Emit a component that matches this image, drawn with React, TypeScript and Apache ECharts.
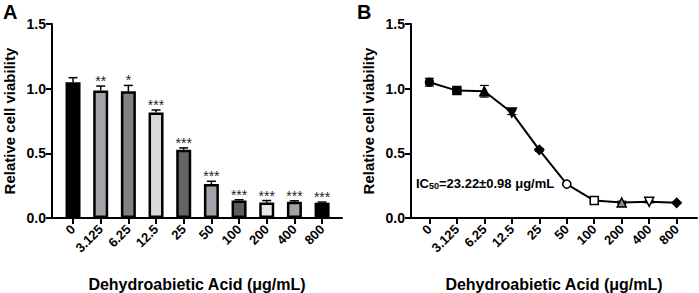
import React, { useEffect, useRef } from 'react';
import * as echarts from 'echarts';

const categories = ['0', '3.125', '6.25', '12.5', '25', '50', '100', '200', '400', '800'];
const viability = [1.05, 0.985, 0.98, 0.815, 0.527, 0.262, 0.135, 0.12, 0.125, 0.117];
const errorsA = [0.035, 0.035, 0.045, 0.02, 0.015, 0.022, 0.006, 0.015, 0.008, 0.006];
const errorsB = [0.03, 0.012, 0.045, 0.015, 0.01, 0.01, 0.006, 0.01, 0.008, 0.006];
const significance = ['', '**', '*', '***', '***', '***', '***', '***', '***', '***'];
const yTicks = [0, 0.5, 1.0, 1.5];
const xTitle = 'Dehydroabietic Acid (μg/mL)';
const yTitle = 'Relative cell viability';
const ic50Value = '23.22±0.98 μg/mL';

const barColors = ['#000000', '#a2a2a8', '#818181', '#d9d9d9', '#646464', '#a2a2a8', '#5c5c5c', '#e8e8e8', '#a2a2a8', '#000000'];
const markerSymbols = ['circle', 'rect', 'triangle', 'triangle', 'diamond', 'circle', 'rect', 'triangle', 'triangle', 'diamond'];
const markerRotate = [0, 0, 0, 180, 0, 0, 0, 0, 180, 0];
const markerFill = ['#000', '#000', '#000', '#000', '#000', '#fff', '#fff', '#8a8a8a', '#fff', '#000'];

const FONT = '"Liberation Sans", Arial, sans-serif';

function makeXAxis(gridIndex: number, min: number, max: number) {
  const idx = categories.map((_, i) => i);
  return {
    type: 'value',
    gridIndex,
    min,
    max,
    name: xTitle,
    nameLocation: 'middle',
    nameGap: 58,
    nameTextStyle: { fontFamily: FONT, fontWeight: 'bold', fontSize: 16, color: '#000' },
    axisLine: { show: true, onZero: false, lineStyle: { color: '#000', width: 2 } },
    axisTick: { show: true, customValues: idx, length: 6, lineStyle: { color: '#000', width: 2 } },
    axisLabel: {
      customValues: idx,
      rotate: 45,
      margin: 9,
      fontFamily: FONT,
      fontWeight: 'bold',
      fontSize: 13,
      color: '#000',
      formatter: (v: number) => categories[Math.round(v)] ?? '',
    },
    splitLine: { show: false },
  };
}

function makeYAxis(gridIndex: number) {
  return {
    type: 'value',
    gridIndex,
    min: yTicks[0],
    max: yTicks[yTicks.length - 1],
    interval: yTicks[1] - yTicks[0],
    name: yTitle,
    nameLocation: 'middle',
    nameGap: 35,
    nameTextStyle: { fontFamily: FONT, fontWeight: 'bold', fontSize: 15, color: '#000' },
    axisLine: { show: true, onZero: false, lineStyle: { color: '#000', width: 2 } },
    axisTick: { show: true, length: 6, lineStyle: { color: '#000', width: 2 } },
    axisLabel: {
      margin: 6,
      fontFamily: FONT,
      fontWeight: 'bold',
      fontSize: 14,
      color: '#000',
      formatter: (v: number) => v.toFixed(1),
    },
    splitLine: { show: false },
  };
}

export default function App() {
  const ref = useRef<HTMLDivElement>(null);

  useEffect(() => {
    document.body.style.margin = '0';
    if (!ref.current) return;
    const chart = echarts.init(ref.current, undefined, { renderer: 'svg' });

    const barData = viability.map((v, i) => ({
      value: [i, v],
      itemStyle: { color: barColors[i], borderColor: '#000', borderWidth: 2.5 },
    }));
    const errA = viability.map((v, i) => [i, v, v + errorsA[i], i]);
    const errB = viability.map((v, i) => [i, v - errorsB[i], v + errorsB[i]]);
    const lineData = viability.map((v, i) => ({
      value: [i, v],
      symbol: markerSymbols[i],
      symbolRotate: markerRotate[i],
      symbolSize: markerSymbols[i] === 'rect' || markerSymbols[i] === 'circle' ? 8 : 9,
      itemStyle: { color: markerFill[i], borderColor: '#000', borderWidth: 1.5 },
    }));

    chart.setOption({
      animation: false,
      backgroundColor: '#fff',
      grid: [
        { left: 52, right: 357, top: 24, bottom: 75, containLabel: false, outerBoundsMode: 'none' },
        { left: 411, right: 2, top: 24, bottom: 75, containLabel: false, outerBoundsMode: 'none' },
      ],
      xAxis: [makeXAxis(0, -0.76, 9.72), makeXAxis(1, -0.67, 9.74)],
      yAxis: [makeYAxis(0), makeYAxis(1)],
      series: [
        {
          type: 'bar',
          xAxisIndex: 0,
          yAxisIndex: 0,
          barWidth: 15,
          data: barData,
          z: 2,
        },
        {
          type: 'custom',
          xAxisIndex: 0,
          yAxisIndex: 0,
          z: 3,
          data: errA,
          renderItem: (params: any, api: any) => {
            const x = api.value(0);
            const top = api.coord([x, api.value(1)]);
            const high = api.coord([x, api.value(2)]);
            const label = significance[api.value(3)];
            const w = 4.5;
            return {
              type: 'group',
              children: [
                { type: 'line', shape: { x1: top[0], y1: top[1], x2: high[0], y2: high[1] }, style: { stroke: '#000', lineWidth: 1.5 } },
                { type: 'line', shape: { x1: high[0] - w, y1: high[1], x2: high[0] + w, y2: high[1] }, style: { stroke: '#000', lineWidth: 1.5 } },
                {
                  type: 'text',
                  x: high[0],
                  y: high[1] + 2,
                  style: { text: label, fill: '#222', fontSize: 14, fontFamily: FONT, align: 'center', verticalAlign: 'bottom' },
                },
              ],
            };
          },
        },
        {
          type: 'custom',
          xAxisIndex: 1,
          yAxisIndex: 1,
          z: 1,
          data: errB,
          renderItem: (params: any, api: any) => {
            const x = api.value(0);
            const lo = api.coord([x, api.value(1)]);
            const hi = api.coord([x, api.value(2)]);
            const w = 4.5;
            return {
              type: 'group',
              children: [
                { type: 'line', shape: { x1: lo[0], y1: lo[1], x2: hi[0], y2: hi[1] }, style: { stroke: '#000', lineWidth: 1.2 } },
                { type: 'line', shape: { x1: lo[0] - w, y1: lo[1], x2: lo[0] + w, y2: lo[1] }, style: { stroke: '#000', lineWidth: 1.2 } },
                { type: 'line', shape: { x1: hi[0] - w, y1: hi[1], x2: hi[0] + w, y2: hi[1] }, style: { stroke: '#000', lineWidth: 1.2 } },
              ],
            };
          },
        },
        {
          type: 'line',
          xAxisIndex: 1,
          yAxisIndex: 1,
          z: 2,
          data: lineData,
          lineStyle: { color: '#000', width: 2 },
          showAllSymbol: true,
        },
      ],
      graphic: [
        { type: 'text', left: 3, top: 2, style: { text: 'A', fontFamily: FONT, fontWeight: 'bold', fontSize: 20, fill: '#000' } },
        { type: 'text', left: 357, top: 2, style: { text: 'B', fontFamily: FONT, fontWeight: 'bold', fontSize: 20, fill: '#000' } },
        {
          type: 'text',
          left: 416,
          top: 177,
          style: {
            text: '{m|IC}{s|50}{m|=' + ic50Value + '}',
            rich: {
              m: { fontFamily: FONT, fontWeight: 'bold', fontSize: 13, fill: '#000', lineHeight: 16, verticalAlign: 'bottom' },
              s: { fontFamily: FONT, fontWeight: 'bold', fontSize: 9, fill: '#000', lineHeight: 7, verticalAlign: 'bottom' },
            },
          },
        },
      ],
    });

    return () => chart.dispose();
  }, []);

  return <div ref={ref} style={{ width: 699, height: 293 }} />;
}
